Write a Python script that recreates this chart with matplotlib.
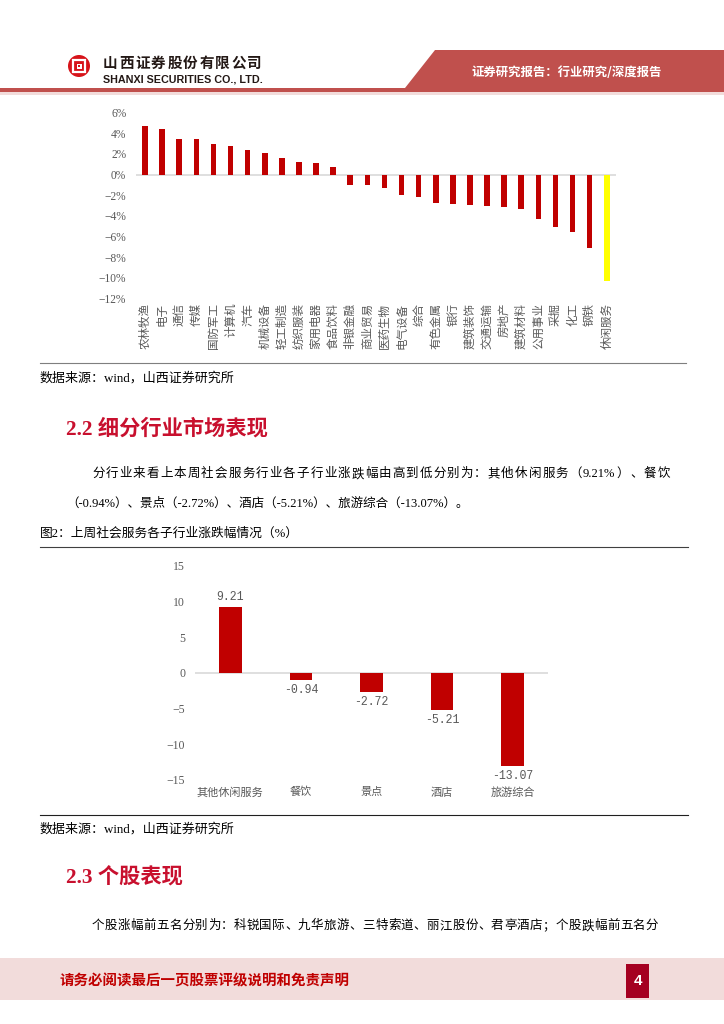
import re
import numpy as np
import matplotlib
matplotlib.use('Agg')
import matplotlib.pyplot as plt
from matplotlib.patches import Polygon, Rectangle, Circle

# top chart: weekly change of SW level-1 industries (%)
industries = ['农林牧渔', '电子', '通信', '传媒', '国防军工', '计算机', '汽车', '机械设备',
              '轻工制造', '纺织服装', '家用电器', '食品饮料', '非银金融', '商业贸易', '医药生物',
              '电气设备', '综合', '有色金属', '银行', '建筑装饰', '交通运输', '房地产',
              '建筑材料', '公用事业', '采掘', '化工', '钢铁', '休闲服务']
ind_chg = [4.67, 4.38, 3.45, 3.42, 3.0, 2.8, 2.4, 2.1, 1.64, 1.22, 1.16, 0.71,
           -0.97, -1.06, -1.35, -1.96, -2.19, -2.8, -2.83, -2.93, -3.0, -3.19,
           -3.38, -4.32, -5.12, -5.54, -7.08, -10.34]
highlight = '休闲服务'

# second chart: sub-sectors of social services (%)
sub_names = ['其他休闲服务', '餐饮', '景点', '酒店', '旅游综合']
sub_chg = [9.21, -0.94, -2.72, -5.21, -13.07]

W, H = 724, 1024
CJK = ['Noto Sans CJK SC', 'DejaVu Sans']
SERIF = ['Liberation Serif', 'Noto Sans CJK SC']
RED = '#C00000'
GRAY = '#595959'

fig = plt.figure(figsize=(W / 100, H / 100), dpi=100)
page = fig.add_axes([0, 0, 1, 1])
page.set_xlim(0, W)
page.set_ylim(H, 0)
page.axis('off')
rend = fig.canvas.get_renderer()


def box(l, t, r, b):
    return [l / W, 1 - b / H, (r - l) / W, (b - t) / H]


def width(t):
    return t.get_window_extent(renderer=rend).width


def fit(x0, x1, y, s, **kw):
    # scale font so the string spans x0..x1
    t = page.text(x0, y, s, ha='left', va='center', **kw)
    t.set_fontsize(t.get_fontsize() * (x1 - x0) / width(t))
    return t


def spread(x0, x1, y, s, **kw):
    # justified line: extra space goes between characters
    toks = re.findall(r'[A-Za-z0-9.%\-]+|.', s)
    ts = [page.text(0, y, tk, ha='left', va='center', **kw) for tk in toks]
    ws = [width(t) for t in ts]
    gap = (x1 - x0 - sum(ws)) / (len(ts) - 1)
    x = x0
    for t, w in zip(ts, ws):
        t.set_x(x)
        x += w + gap


# ---- header ----
page.add_patch(Polygon([(435, 50), (W, 50), (W, 88), (405, 88)], closed=True,
                       color='#C0504D', lw=0))
page.add_patch(Rectangle((0, 87.5), W, 4.3, color='#C0504D', lw=0))
page.add_patch(Rectangle((0, 91.8), W, 3.5, color='#F2DCDB', lw=0))
fit(472, 663, 72, '证券研究报告：行业研究/深度报告', color='white', fontsize=9.5,
    fontweight='bold', family=CJK)

# logo
page.add_patch(Circle((79, 66), 11, color='#D7141A', lw=0))
page.add_patch(Rectangle((73, 60), 12, 12, fill=False, ec='white', lw=1.6))
page.add_patch(Rectangle((76.5, 63.5), 5, 5, color='white', lw=0))
page.add_patch(Rectangle((77.8, 64.8), 2.4, 2.4, color='#D7141A', lw=0))
spread(103, 262, 63, '山西证券股份有限公司', fontsize=10.5, fontweight='bold',
       family=CJK, color='#231815')
fit(103, 262, 79, 'SHANXI SECURITIES CO., LTD.', fontsize=7.5, fontweight='bold',
    family=['Liberation Sans'], color='#231815')

# ---- chart 1 ----
ax1 = fig.add_axes(box(136, 112.5, 616, 298.5))
x1 = np.arange(len(industries))
cols = ['#FFFF00' if n == highlight else RED for n in industries]
ax1.bar(x1, ind_chg, width=0.33, color=cols)
ax1.axhline(0, color='#D9D9D9', lw=1.2, zorder=0)
ax1.set_xlim(-0.53, len(industries) - 0.46)
ax1.set_ylim(-12, 6)
ax1.set_yticks(np.arange(-12, 7, 2))
ax1.set_yticklabels([f'{v}%'.replace('-', '\u2212') for v in range(-12, 7, 2)],
                    family=SERIF, fontsize=8.3, color=GRAY)
ax1.set_xticks(x1)
ax1.set_xticklabels(industries, rotation=90, family=CJK, fontsize=8.3, color=GRAY,
                    va='top', ha='center')
ax1.tick_params(axis='both', length=0)
ax1.tick_params(axis='y', pad=7)
ax1.tick_params(axis='x', pad=3)
for s in ax1.spines.values():
    s.set_visible(False)

page.plot([40, 686], [363, 363], color='#7F7F7F', lw=0.8)
fit(40, 235, 378, '数据来源：wind，山西证券研究所', fontsize=9, family=SERIF)

# ---- text ----
h22 = fit(66, 268, 429, '2.2 细分行业市场表现', fontsize=15, fontweight='bold',
          family=SERIF, color='#C8102E')
spread(92, 670, 474, '分行业来看上本周社会服务行业各子行业涨跌幅由高到低分别为：其他休闲服务（9.21%）、餐饮',
       fontsize=9, family=SERIF)
page.text(66, 504, '（-0.94%）、景点（-2.72%）、酒店（-5.21%）、旅游综合（-13.07%）。',
          fontsize=9, family=SERIF, ha='left', va='center')
fit(40, 300, 534, '图2：上周社会服务各子行业涨跌幅情况（%）', fontsize=9.5, family=SERIF)
page.plot([40, 688], [547, 547], color='#404040', lw=0.8)

# ---- chart 2 ----
ax2 = fig.add_axes(box(195, 565.7, 548, 780))
x2 = np.arange(len(sub_names))
ax2.bar(x2, sub_chg, width=0.32, color=RED)
ax2.axhline(0, color='#D9D9D9', lw=1.2, zorder=0)
ax2.set_xlim(-0.5, len(sub_names) - 0.5)
ax2.set_ylim(-15, 15)
ax2.set_yticks(np.arange(-15, 16, 5))
ax2.set_yticklabels([str(v).replace('-', '\u2212') for v in range(-15, 16, 5)],
                    family=SERIF, fontsize=8.5, color=GRAY)
ax2.set_xticks(x2)
ax2.set_xticklabels(sub_names, family=CJK, fontsize=8, color=GRAY)
ax2.tick_params(axis='both', length=0)
ax2.tick_params(axis='y', pad=7)
ax2.tick_params(axis='x', pad=5)
for s in ax2.spines.values():
    s.set_visible(False)
for xi, v in zip(x2, sub_chg):
    ax2.annotate(f'{v:.2f}', (xi, v), xytext=(0, 3 if v > 0 else -3),
                 textcoords='offset points', ha='center',
                 va='bottom' if v > 0 else 'top', family=['Liberation Mono'],
                 fontsize=8.3, color=GRAY)

page.plot([40, 688], [815, 815], color='#202020', lw=0.8)
fit(40, 235, 829, '数据来源：wind，山西证券研究所', fontsize=9, family=SERIF)
page.text(66, 878, '2.3 个股表现', fontsize=h22.get_fontsize(), fontweight='bold',
          family=SERIF, color='#C8102E', ha='left', va='center')
spread(92, 658, 926, '个股涨幅前五名分别为：科锐国际、九华旅游、三特索道、丽江股份、君亭酒店；个股跌幅前五名分',
       fontsize=9, family=SERIF)

# ---- footer ----
page.add_patch(Rectangle((0, 958), W, 42, color='#F2DCDB', lw=0))
fit(60, 350, 981, '请务必阅读最后一页股票评级说明和免责声明', fontsize=10.5,
    fontweight='bold', family=CJK, color=RED)
page.add_patch(Rectangle((626, 964), 23, 34, color='#A50021', lw=0))
page.text(637.5, 981, '4', fontsize=11, fontweight='bold', family=['Liberation Sans'],
          color='white', ha='center', va='center')

fig.savefig('out.png', dpi=100)
